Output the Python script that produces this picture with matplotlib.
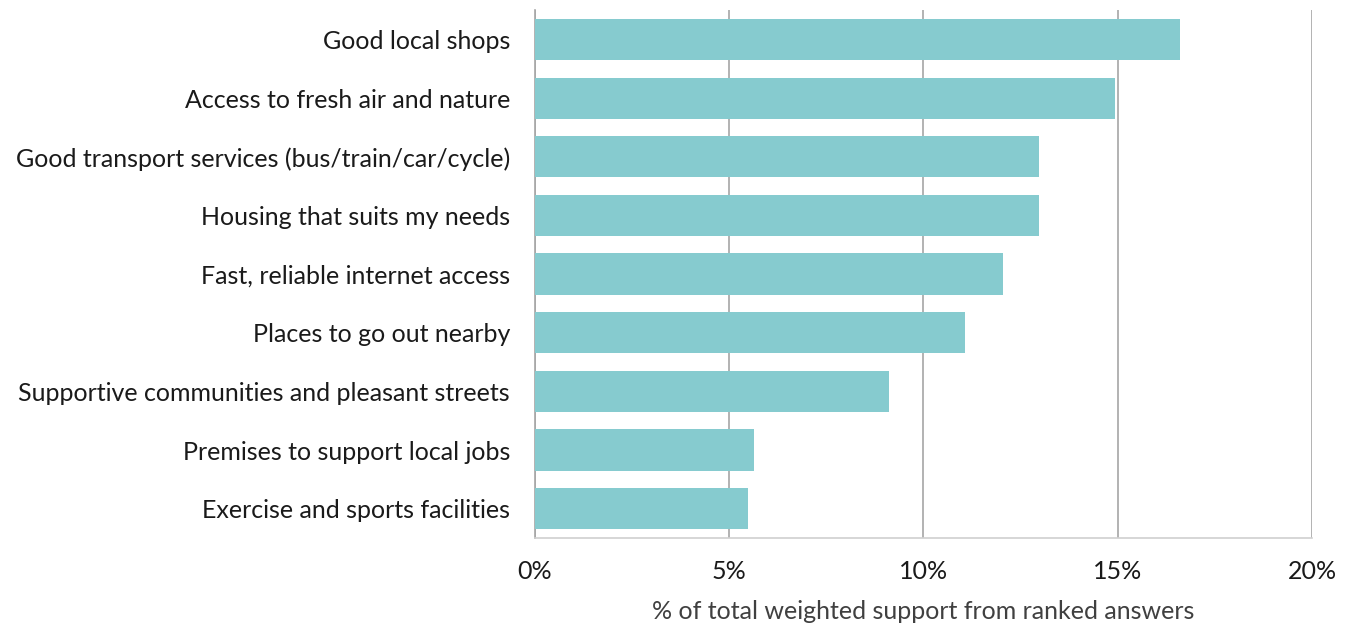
import matplotlib.pyplot as plt
from matplotlib.ticker import FuncFormatter

# --- Data ---
categories = [
    'Good local shops',
    'Access to fresh air and nature',
    'Good transport services (bus/train/car/cycle)',
    'Housing that suits my needs',
    'Fast, reliable internet access',
    'Places to go out nearby',
    'Supportive communities and pleasant streets',
    'Premises to support local jobs',
    'Exercise and sports facilities',
]
support = [16.6, 14.93, 12.97, 12.97, 12.05, 11.07, 9.11, 5.64, 5.48]
x_ticks = [0, 5, 10, 15, 20]

plt.rcParams['font.family'] = ['Lato', 'DejaVu Sans']

fig = plt.figure(figsize=(13.53, 6.28), dpi=100)
ax = fig.add_axes([0.3954, 0.1433, 0.5743, 0.8407])

ax.barh(range(len(categories)), support, height=0.7, color='#86cbcf', zorder=3)

ax.set_xlim(0, 20)
ax.set_ylim(8.5, -0.5)
ax.set_xticks(x_ticks)
ax.xaxis.set_major_formatter(FuncFormatter(lambda v, p: f'{v:.0f}%'))
ax.set_yticks(range(len(categories)))
ax.set_yticklabels(categories)

ax.grid(axis='x', color='#a6a6a6', linewidth=1.2, zorder=0)
ax.tick_params(axis='both', length=0, labelsize=18, colors='#1a1a1a')
ax.tick_params(axis='y', pad=18)
ax.tick_params(axis='x', pad=16)

for s in ['top', 'right']:
    ax.spines[s].set_visible(False)
ax.spines['left'].set_color('#a6a6a6')
ax.spines['left'].set_linewidth(1.2)
ax.spines['bottom'].set_color('#d0d0d0')
ax.spines['bottom'].set_linewidth(1.2)

ax.set_xlabel('% of total weighted support from ranked answers', fontsize=18,
              color='#404040', labelpad=12)

plt.savefig('out.png', dpi=100)
